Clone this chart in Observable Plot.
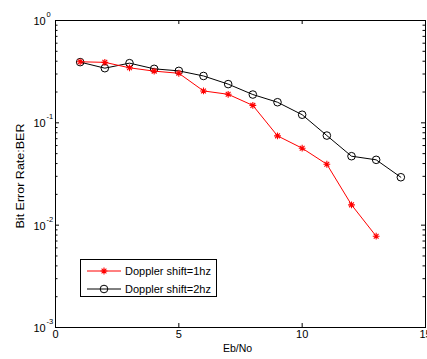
<!DOCTYPE html>
<html>
<head>
<meta charset="utf-8">
<script src="https://cdn.jsdelivr.net/npm/d3@7"></script>
<script src="https://cdn.jsdelivr.net/npm/@observablehq/plot@0.6"></script>
<style>
  html, body { margin: 0; padding: 0; background: #fff; }
  svg { font-family: "Liberation Sans", Arial, Helvetica, sans-serif; }
</style>
</head>
<body>
<div id="chart"></div>
<script>
// Data
const ebno1 = [1, 2, 3, 4, 5, 6, 7, 8, 9, 10, 11, 12, 13];
const ber1 = [0.395, 0.39, 0.345, 0.32, 0.305, 0.205, 0.19, 0.148, 0.0746, 0.0565, 0.0394, 0.0158, 0.0078];
const ebno2 = [1, 2, 3, 4, 5, 6, 7, 8, 9, 10, 11, 12, 13, 14];
const ber2 = [0.392, 0.342, 0.383, 0.337, 0.322, 0.287, 0.239, 0.189, 0.159, 0.12, 0.0751, 0.0472, 0.0435, 0.0294];
const seriesNames = ["Doppler shift=1hz", "Doppler shift=2hz"];
const xTicks = [0, 5, 10, 15];
const yMajor = [1e-3, 1e-2, 1e-1, 1];
const yExponents = ["-3", "-2", "-1", "0"];
const xLabel = "Eb/No";
const yLabel = "Bit Error Rate:BER";
const yMinor = [];
for (let e = -3; e < 0; e++) for (let k = 2; k <= 9; k++) yMinor.push(k * Math.pow(10, e));

const W = 427, H = 359;
const mL = 55, mR = 2, mT = 20, mB = 32;
const fW = W - mL - mR, fH = H - mT - mB;

const d1 = ebno1.map((x, i) => ({x, y: ber1[i]}));
const d2 = ebno2.map((x, i) => ({x, y: ber2[i]}));

// MATLAB-like 8-arm asterisk
const asterisk8 = {
  draw(ctx, size) {
    const r = Math.sqrt(size / Math.PI);
    const d = r * Math.SQRT1_2;
    ctx.moveTo(-r, 0); ctx.lineTo(r, 0);
    ctx.moveTo(0, -r); ctx.lineTo(0, r);
    ctx.moveTo(-d, -d); ctx.lineTo(d, d);
    ctx.moveTo(-d, d); ctx.lineTo(d, -d);
  }
};

const fs = 11;
const plot = Plot.plot({
  width: W, height: H,
  marginLeft: mL, marginRight: mR, marginTop: mT, marginBottom: mB,
  style: {fontFamily: '"Liberation Sans", Arial, sans-serif', fontSize: fs + "px", background: "#fff"},
  x: {domain: [0, 15], axis: null},
  y: {type: "log", domain: [1e-3, 1], axis: null},
  marks: [
    // ticks (inward, on all four sides)
    Plot.ruleX(xTicks, {x: d => d, insetTop: fH - 4, stroke: "black"}),
    Plot.ruleX(xTicks, {x: d => d, insetBottom: fH - 4, stroke: "black"}),
    Plot.ruleY(yMajor, {y: d => d, insetRight: fW - 4, stroke: "black"}),
    Plot.ruleY(yMajor, {y: d => d, insetLeft: fW - 4, stroke: "black"}),
    Plot.ruleY(yMinor, {y: d => d, insetRight: fW - 2.5, stroke: "black"}),
    Plot.ruleY(yMinor, {y: d => d, insetLeft: fW - 2.5, stroke: "black"}),
    Plot.frame({stroke: "black", strokeWidth: 1}),
    // tick labels
    Plot.text(xTicks, {x: d => d, frameAnchor: "bottom", dy: 10, fill: "black", fontSize: fs}),
    Plot.text(yMajor, {y: d => d, text: () => "10", frameAnchor: "left", dx: -22, dy: 1, textAnchor: "start", fill: "black", fontSize: fs}),
    Plot.text(yMajor, {y: d => d, text: (d, i) => yExponents[i], frameAnchor: "left", dx: -9, dy: -6, textAnchor: "start", fill: "black", fontSize: 7.5}),
    // x axis label
    Plot.text([xLabel], {frameAnchor: "bottom", dx: -3, dy: 24, fill: "black", fontSize: 10.5}),
    // series
    Plot.line(d2, {x: "x", y: "y", stroke: "black", strokeWidth: 1}),
    Plot.dot(d2, {x: "x", y: "y", r: 3.8, stroke: "black", fill: "none", strokeWidth: 1}),
    Plot.line(d1, {x: "x", y: "y", stroke: "#ff0000", strokeWidth: 1}),
    Plot.dot(d1, {x: "x", y: "y", r: 3.4, symbol: asterisk8, stroke: "#ff0000", fill: "none", strokeWidth: 1.1})
  ]
});

const svg = d3.select(plot);
// y axis label
svg.append("text")
  .attr("transform", "translate(20,176) rotate(-90)")
  .attr("text-anchor", "middle").attr("dy", "0.35em")
  .attr("font-size", 11).attr("fill", "black")
  .attr("textLength", 105).attr("lengthAdjust", "spacingAndGlyphs")
  .text(yLabel);

// Legend inside the axes (MATLAB style box)
const lg = svg.append("g").attr("font-size", 11).attr("font-family", '"Liberation Sans", Arial, sans-serif')
  .attr("text-anchor", "start");
lg.append("rect").attr("x", 80.5).attr("y", 259.5).attr("width", 136).attr("height", 37)
  .attr("fill", "white").attr("stroke", "black").attr("stroke-width", 1);
const rows = [
  {name: seriesNames[0], color: "#ff0000", sym: "star", y: 271},
  {name: seriesNames[1], color: "black", sym: "circle", y: 289}
];
rows.forEach(r => {
  lg.append("line").attr("x1", 87).attr("x2", 121).attr("y1", r.y).attr("y2", r.y)
    .attr("stroke", r.color).attr("stroke-width", 1);
  if (r.sym === "star") {
    lg.append("path").attr("transform", `translate(104,${r.y})`)
      .attr("d", d3.symbol(asterisk8, Math.PI * 3.4 * 3.4)())
      .attr("stroke", r.color).attr("stroke-width", 1.1).attr("fill", "none");
  } else {
    lg.append("circle").attr("cx", 104).attr("cy", r.y).attr("r", 3.8)
      .attr("stroke", r.color).attr("fill", "none");
  }
  lg.append("text").attr("x", 125).attr("y", r.y).attr("dy", "0.35em")
    .attr("text-anchor", "start").attr("fill", "black").text(r.name);
});

document.getElementById("chart").appendChild(plot);
</script>
</body>
</html>
